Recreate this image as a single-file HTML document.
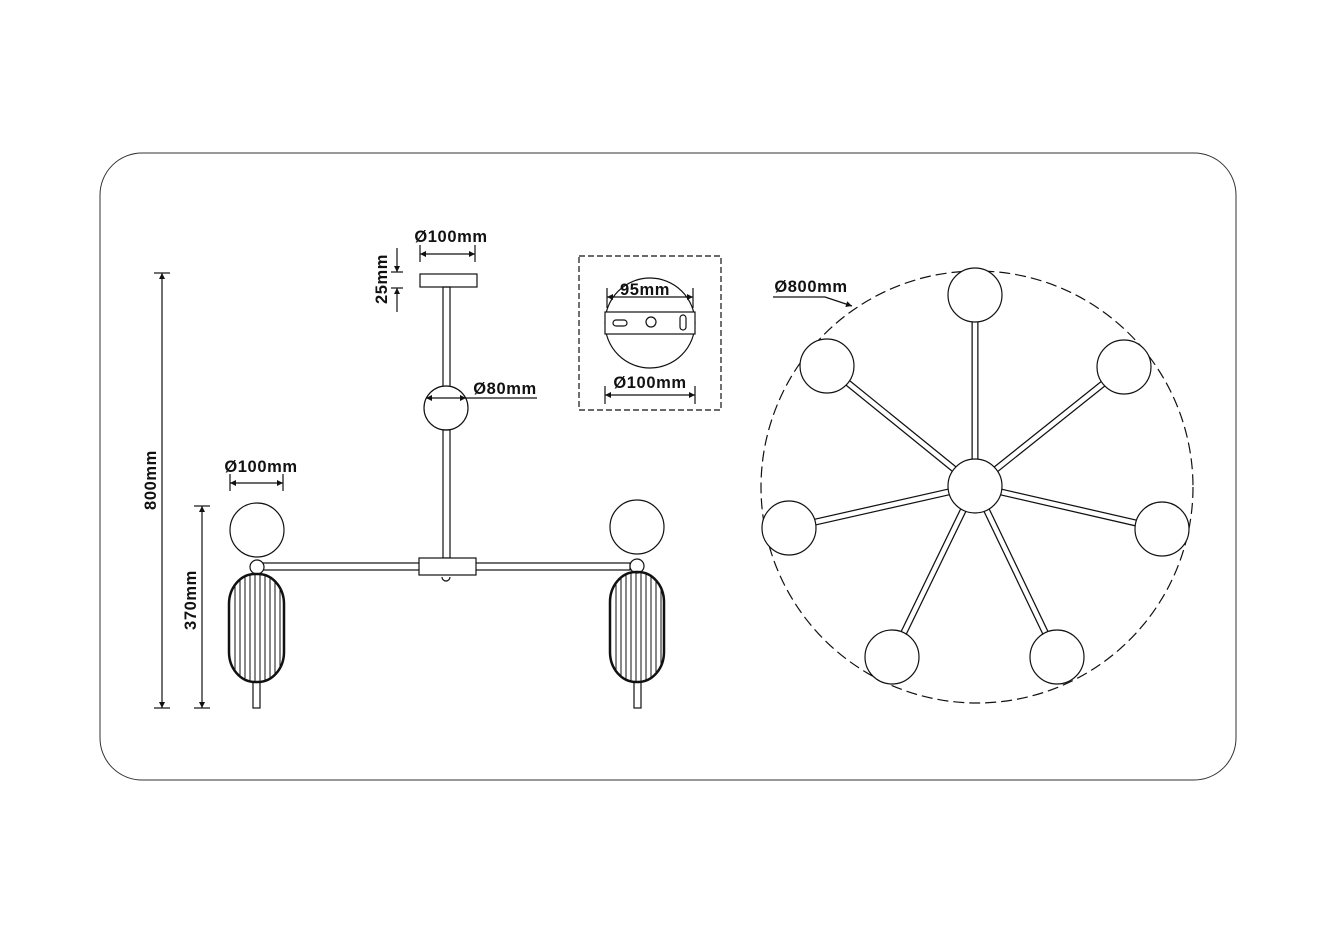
<!DOCTYPE html>
<html><head><meta charset="utf-8"><style>
html,body{margin:0;padding:0;background:#fff;}
svg{display:block}
text{font-family:"Liberation Sans",sans-serif;font-weight:bold;font-size:16.5px;letter-spacing:0.6px;fill:#111}
</style></head><body>
<svg width="1333" height="933" viewBox="0 0 1333 933" xmlns="http://www.w3.org/2000/svg">
<defs>
<marker id="a" viewBox="0 0 10 10" refX="10" refY="5" markerWidth="10" markerHeight="6" orient="auto-start-reverse" markerUnits="userSpaceOnUse"><path d="M0,0 L10,5 L0,10 z" fill="#111"/></marker>
<clipPath id="bodyL"><rect x="229" y="574" width="55" height="108" rx="26" ry="30"/></clipPath>
<clipPath id="bodyR"><rect x="610" y="572" width="54" height="110" rx="26" ry="30"/></clipPath>
</defs>
<rect x="100" y="153" width="1136" height="627" rx="42" fill="none" stroke="#333" stroke-width="1"/>

<g stroke="#111" fill="none" stroke-width="1.2">
<line x1="162" y1="273" x2="162" y2="708" marker-start="url(#a)" marker-end="url(#a)"/>
<line x1="154" y1="273" x2="170" y2="273"/><line x1="154" y1="708" x2="170" y2="708"/>
<line x1="202" y1="506" x2="202" y2="708" marker-start="url(#a)" marker-end="url(#a)"/>
<line x1="194" y1="506" x2="210" y2="506"/><line x1="194" y1="708" x2="210" y2="708"/>
<line x1="230" y1="483" x2="283" y2="483" marker-start="url(#a)" marker-end="url(#a)"/>
<line x1="230" y1="474" x2="230" y2="491"/><line x1="283" y1="474" x2="283" y2="491"/>
<line x1="420" y1="254" x2="475" y2="254" marker-start="url(#a)" marker-end="url(#a)"/>
<line x1="420" y1="245" x2="420" y2="262"/><line x1="475" y1="245" x2="475" y2="262"/>
<line x1="397" y1="248" x2="397" y2="272" marker-end="url(#a)"/>
<line x1="397" y1="312" x2="397" y2="288" marker-end="url(#a)"/>
<line x1="391" y1="272" x2="403" y2="272"/><line x1="391" y1="288" x2="403" y2="288"/>
<rect x="420" y="274" width="57" height="13"/>
<rect x="443" y="287" width="7" height="103"/>
<circle cx="446" cy="408" r="22" fill="#fff"/>
<line x1="426" y1="398" x2="466" y2="398" marker-start="url(#a)" marker-end="url(#a)"/>
<line x1="466" y1="398" x2="537" y2="398"/>
<rect x="443" y="430" width="7" height="128"/>
<rect x="263" y="563" width="367" height="7" fill="#fff"/>
<rect x="419" y="558" width="57" height="17" fill="#fff"/>
<path d="M442,577 a4,4 0 0 0 8,0" />
<circle cx="257" cy="530" r="27" fill="#fff"/>
<circle cx="257" cy="567" r="7" fill="#fff"/>
<rect x="229" y="574" width="55" height="108" rx="26" ry="30" stroke-width="2.5"/>
<g clip-path="url(#bodyL)" stroke-width="1">
<line x1="235" y1="570" x2="235" y2="690"/><line x1="240" y1="570" x2="240" y2="690"/><line x1="245" y1="570" x2="245" y2="690"/><line x1="250" y1="570" x2="250" y2="690"/><line x1="255" y1="570" x2="255" y2="690"/><line x1="260" y1="570" x2="260" y2="690"/><line x1="265" y1="570" x2="265" y2="690"/><line x1="270" y1="570" x2="270" y2="690"/><line x1="275" y1="570" x2="275" y2="690"/><line x1="280" y1="570" x2="280" y2="690"/>
</g>
<rect x="253" y="682" width="7" height="26"/>
<circle cx="637" cy="527" r="27" fill="#fff"/>
<circle cx="637" cy="566" r="7" fill="#fff"/>
<rect x="610" y="572" width="54" height="110" rx="26" ry="30" stroke-width="2.5"/>
<g clip-path="url(#bodyR)" stroke-width="1">
<line x1="616" y1="570" x2="616" y2="690"/><line x1="621" y1="570" x2="621" y2="690"/><line x1="626" y1="570" x2="626" y2="690"/><line x1="631" y1="570" x2="631" y2="690"/><line x1="636" y1="570" x2="636" y2="690"/><line x1="641" y1="570" x2="641" y2="690"/><line x1="646" y1="570" x2="646" y2="690"/><line x1="651" y1="570" x2="651" y2="690"/><line x1="656" y1="570" x2="656" y2="690"/><line x1="661" y1="570" x2="661" y2="690"/>
</g>
<rect x="634" y="682" width="7" height="26"/>

<rect x="579" y="256" width="142" height="154" stroke-dasharray="6,3"/>
<circle cx="650" cy="323" r="45"/>
<rect x="605" y="312" width="90" height="22" fill="#fff"/>
<rect x="613" y="320" width="14" height="6" rx="3"/>
<circle cx="651" cy="322" r="5"/>
<rect x="680" y="315" width="6" height="15" rx="3"/>
<line x1="607" y1="297" x2="693" y2="297" marker-start="url(#a)" marker-end="url(#a)"/>
<line x1="607" y1="288" x2="607" y2="308"/><line x1="693" y1="288" x2="693" y2="308"/>
<line x1="605" y1="395" x2="695" y2="395" marker-start="url(#a)" marker-end="url(#a)"/>
<line x1="605" y1="386" x2="605" y2="404"/><line x1="695" y1="386" x2="695" y2="404"/>

<circle cx="977" cy="487" r="216" stroke-dasharray="11,5"/>
<polyline points="773,297 825,297 852,306" marker-end="url(#a)"/>
</g>
<g stroke="#111" stroke-width="7">
<line x1="975" y1="486" x2="975" y2="295"/>
<line x1="975" y1="486" x2="1124" y2="367"/>
<line x1="975" y1="486" x2="1162" y2="529"/>
<line x1="975" y1="486" x2="1057" y2="657"/>
<line x1="975" y1="486" x2="892" y2="657"/>
<line x1="975" y1="486" x2="789" y2="528"/>
<line x1="975" y1="486" x2="827" y2="366"/>
</g>
<g stroke="#fff" stroke-width="4.5">
<line x1="975" y1="486" x2="975" y2="295"/>
<line x1="975" y1="486" x2="1124" y2="367"/>
<line x1="975" y1="486" x2="1162" y2="529"/>
<line x1="975" y1="486" x2="1057" y2="657"/>
<line x1="975" y1="486" x2="892" y2="657"/>
<line x1="975" y1="486" x2="789" y2="528"/>
<line x1="975" y1="486" x2="827" y2="366"/>
</g>
<g stroke="#111" stroke-width="1.2" fill="#fff">
<circle cx="975" cy="486" r="27"/>
<circle cx="975" cy="295" r="27"/>
<circle cx="1124" cy="367" r="27"/>
<circle cx="1162" cy="529" r="27"/>
<circle cx="1057" cy="657" r="27"/>
<circle cx="892" cy="657" r="27"/>
<circle cx="789" cy="528" r="27"/>
<circle cx="827" cy="366" r="27"/>
</g>

<text x="451" y="242" text-anchor="middle">Ø100mm</text>
<text x="505" y="394" text-anchor="middle">Ø80mm</text>
<text x="261" y="472" text-anchor="middle">Ø100mm</text>
<text x="645" y="295" text-anchor="middle">95mm</text>
<text x="650" y="388" text-anchor="middle">Ø100mm</text>
<text x="811" y="292" text-anchor="middle">Ø800mm</text>
<text transform="translate(156,480) rotate(-90)" text-anchor="middle">800mm</text>
<text transform="translate(196,600) rotate(-90)" text-anchor="middle">370mm</text>
<text transform="translate(387,279) rotate(-90)" text-anchor="middle">25mm</text>
</svg>
</body></html>
